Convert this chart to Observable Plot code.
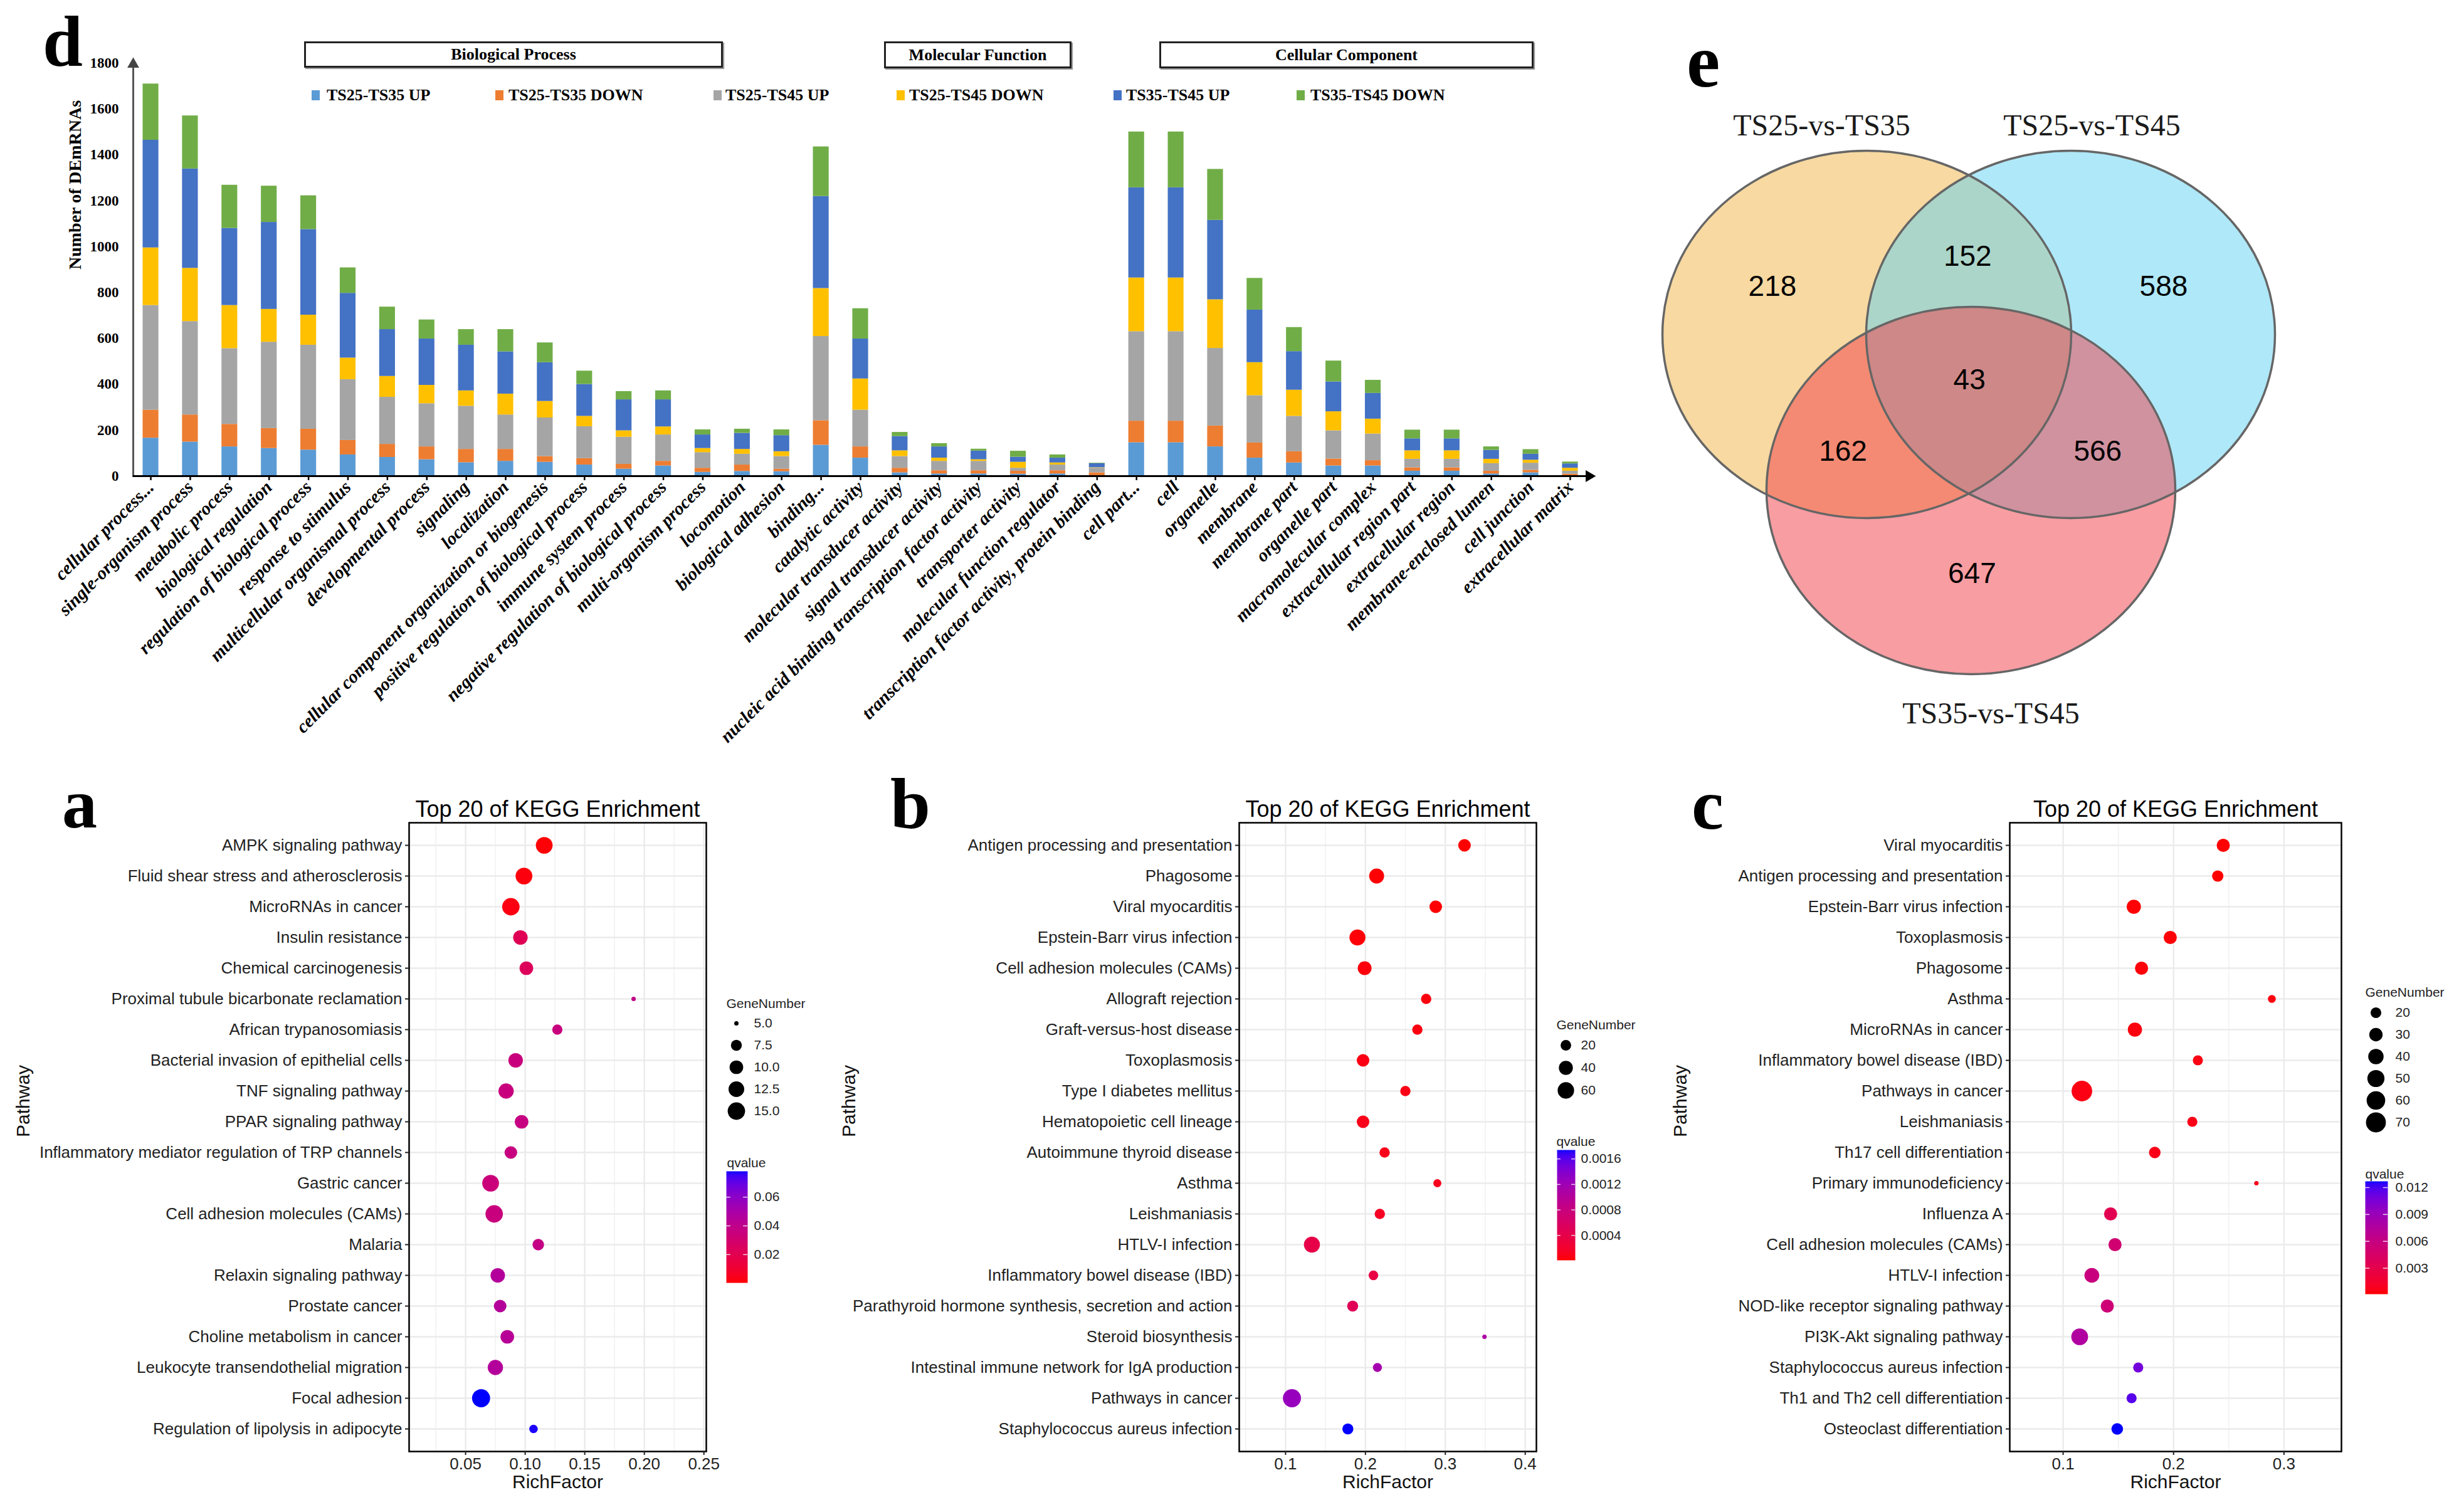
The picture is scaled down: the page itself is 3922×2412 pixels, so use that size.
<!DOCTYPE html>
<html>
<head>
<meta charset="utf-8">
<script src="https://cdn.jsdelivr.net/npm/d3@7"></script>
<script src="https://cdn.jsdelivr.net/npm/@observablehq/plot@0.6"></script>
<style>
  html, body { margin: 0; padding: 0; background: #fff; }
  #root { position: relative; width: 3922px; height: 2412px; overflow: hidden; background: #fff; }
  #root > * { position: absolute; }
  .letter { font-family: "Liberation Serif", serif; font-weight: bold; line-height: 1; color: #000; }
  .gobox { border: 3px solid #222; box-shadow: 2px 2px 1px #999; display: flex; align-items: center; justify-content: center;
           font-family: "Liberation Serif", serif; font-weight: bold; font-size: 26px; color: #000; box-sizing: border-box; background: #fff; }
  .golegtext { font-family: "Liberation Serif", serif; font-weight: bold; font-size: 26px; line-height: 1; color: #000; white-space: nowrap; }
  .vennlayer circle { vector-effect: non-scaling-stroke; }
</style>
</head>
<body>
<div id="root"></div>
<script>
// ---------------- DATA: panel d (GO classification) ----------------
const goCategories = [
  "cellular process...", "single-organism process", "metabolic process", "biological regulation",
  "regulation of biological process", "response to stimulus", "multicellular organismal process",
  "developmental process", "signaling", "localization", "cellular component organization or biogenesis",
  "positive regulation of biological process", "immune system process", "negative regulation of biological process",
  "multi-organism process", "locomotion", "biological adhesion",
  "binding...", "catalytic activity", "molecular transducer activity", "signal transducer activity",
  "nucleic acid binding transcription factor activity", "transporter activity", "molecular function regulator",
  "transcription factor activity, protein binding",
  "cell part...", "cell", "organelle", "membrane", "membrane part", "organelle part", "macromolecular complex",
  "extracellular region part", "extracellular region", "membrane-enclosed lumen", "cell junction", "extracellular matrix"
];
const goGroups = ["Biological Process", "Molecular Function", "Cellular Component"];
const goSeriesNames = ["TS25-TS35 UP", "TS25-TS35 DOWN", "TS25-TS45 UP", "TS25-TS45 DOWN", "TS35-TS45 UP", "TS35-TS45 DOWN"];
const ts25_35_up   = [166,149,128,121,114,93,82,72,59,65,61,49,31,45,17,21,20, 135,79,15,10,10,9,10,2, 146,146,128,79,58,45,45,22,22,10,15,1];
const ts25_35_down = [122,118,98,87,91,63,57,56,58,52,25,28,21,20,18,28,11, 107,49,20,14,14,13,14,13, 94,94,91,66,49,30,23,15,15,12,11,8];
const ts25_45_up   = [456,407,330,376,366,265,205,188,188,150,168,139,118,115,68,47,55, 367,160,51,41,41,13,25,20, 390,390,338,206,154,123,116,37,37,33,31,13];
const ts25_45_down = [251,232,188,143,131,94,91,80,67,91,72,45,28,35,18,21,21, 209,136,25,14,7,26,9,2, 234,234,212,144,114,83,65,37,37,19,13,13];
const ts35_45_up   = [469,433,336,379,373,282,204,202,199,184,169,139,135,118,59,70,70, 401,174,62,49,38,22,21,18, 393,393,346,229,168,130,112,52,52,39,26,19];
const ts35_45_down = [245,231,188,158,147,111,98,83,68,97,86,58,36,39,22,18,25, 216,132,18,14,8,26,14,2, 243,243,222,138,105,91,57,38,38,15,20,8];
const goYTicks = [0,200,400,600,800,1000,1200,1400,1600,1800];

// ---------------- DATA: panel e (Venn) ----------------
const vennSetNames = ["TS25-vs-TS35", "TS25-vs-TS45", "TS35-vs-TS45"];
const vennRegionSets = [[0],[1],[2],[0,1],[0,2],[1,2],[0,1,2]];
const vennCounts = [218, 588, 647, 152, 162, 566, 43];

// ---------------- DATA: panels a, b, c (KEGG) ----------------
const keggA_pathways = ["AMPK signaling pathway","Fluid shear stress and atherosclerosis","MicroRNAs in cancer","Insulin resistance","Chemical carcinogenesis","Proximal tubule bicarbonate reclamation","African trypanosomiasis","Bacterial invasion of epithelial cells","TNF signaling pathway","PPAR signaling pathway","Inflammatory mediator regulation of TRP channels","Gastric cancer","Cell adhesion molecules (CAMs)","Malaria","Relaxin signaling pathway","Prostate cancer","Choline metabolism in cancer","Leukocyte transendothelial migration","Focal adhesion","Regulation of lipolysis in adipocyte"];
const keggA_rich  = [0.116,0.099,0.088,0.096,0.101,0.191,0.127,0.092,0.084,0.097,0.088,0.071,0.074,0.111,0.077,0.079,0.085,0.075,0.063,0.107];
const keggA_genes = [14,14,15,11,10,5,7,11,12,10,9,14,15,8,11,9,10,12,16,6];
const keggA_q     = [0.0011,0.0019,0.0026,0.0221,0.0236,0.0392,0.0353,0.0353,0.0353,0.0368,0.036,0.0345,0.0353,0.0376,0.0454,0.0454,0.0438,0.0454,0.078,0.0772];
const keggA_sizeBreaks = [5, 7.5, 10, 12.5, 15];
const keggA_sizeLabels = ["5.0", "7.5", "10.0", "12.5", "15.0"];
const keggA_qTicks = [0.02, 0.04, 0.06];
const keggA_xTicks = [0.05, 0.10, 0.15, 0.20, 0.25];
const keggA_xMinor = [0.025, 0.075, 0.125, 0.175, 0.225];

const keggB_pathways = ["Antigen processing and presentation","Phagosome","Viral myocarditis","Epstein-Barr virus infection","Cell adhesion molecules (CAMs)","Allograft rejection","Graft-versus-host disease","Toxoplasmosis","Type I diabetes mellitus","Hematopoietic cell lineage","Autoimmune thyroid disease","Asthma","Leishmaniasis","HTLV-I infection","Inflammatory bowel disease (IBD)","Parathyroid hormone synthesis, secretion and action","Steroid biosynthesis","Intestinal immune network for IgA production","Pathways in cancer","Staphylococcus aureus infection"];
const keggB_rich  = [0.324,0.214,0.288,0.190,0.199,0.276,0.265,0.197,0.250,0.197,0.224,0.290,0.218,0.133,0.210,0.184,0.349,0.215,0.108,0.178];
const keggB_genes = [31,47,31,56,39,19,19,31,19,31,19,11,19,56,16,22,6,14,75,22];
const keggB_q     = [0.00001,0.00002,0.00002,0.00003,0.00004,0.00005,0.00006,0.00007,0.00008,0.00009,0.0001,0.00011,0.00015,0.00039,0.00036,0.00049,0.00108,0.00115,0.00126,0.00174];
const keggB_sizeBreaks = [20, 40, 60];
const keggB_sizeLabels = ["20", "40", "60"];
const keggB_qTicks = [0.0004, 0.0008, 0.0012, 0.0016];
const keggB_xTicks = [0.1, 0.2, 0.3, 0.4];
const keggB_xMinor = [0.05, 0.15, 0.25, 0.35];

const keggC_pathways = ["Viral myocarditis","Antigen processing and presentation","Epstein-Barr virus infection","Toxoplasmosis","Phagosome","Asthma","MicroRNAs in cancer","Inflammatory bowel disease (IBD)","Pathways in cancer","Leishmaniasis","Th17 cell differentiation","Primary immunodeficiency","Influenza A","Cell adhesion molecules (CAMs)","HTLV-I infection","NOD-like receptor signaling pathway","PI3K-Akt signaling pathway","Staphylococcus aureus infection","Th1 and Th2 cell differentiation","Osteoclast differentiation"];
const keggC_rich  = [0.245,0.240,0.164,0.197,0.171,0.289,0.165,0.222,0.117,0.217,0.183,0.275,0.143,0.147,0.126,0.140,0.115,0.168,0.162,0.149];
const keggC_genes = [29,22,34,29,29,13,34,18,75,18,23,10,29,29,37,29,48,18,18,23];
const keggC_q     = [0.0001,0.0001,0.0002,0.0002,0.0003,0.0004,0.0004,0.0005,0.0005,0.0006,0.0007,0.0008,0.0033,0.0051,0.0058,0.0054,0.0077,0.0108,0.0117,0.0127];
const keggC_sizeBreaks = [20, 30, 40, 50, 60, 70];
const keggC_sizeLabels = ["20", "30", "40", "50", "60", "70"];
const keggC_qTicks = [0.003, 0.006, 0.009, 0.012];
const keggC_xTicks = [0.1, 0.2, 0.3];
const keggC_xMinor = [0.15, 0.25];

// ---------------- STYLES / LAYOUT ----------------
const goSeriesColors = ["#5B9BD5", "#ED7D31", "#A5A5A5", "#FFC000", "#4472C4", "#70AD47"];
const vennFillColors = ["#EFB343", "#5FD1F1", "#F13B45"];
const root = document.getElementById("root");
function place(el, left, top) { el.style.left = left + "px"; el.style.top = top + "px"; root.appendChild(el); return el; }
function letter(txt, left, baseline, size) {
  const d = document.createElement("div");
  d.className = "letter"; d.textContent = txt; d.style.fontSize = size + "px";
  place(d, left, baseline - 0.8375 * size);
}

// ---------------- PANEL d ----------------
const goSeries = [ts25_35_up, ts25_35_down, ts25_45_up, ts25_45_down, ts35_45_up, ts35_45_down];
const goLong = [];
goSeriesNames.forEach((s, si) => goCategories.forEach((c, ci) => goLong.push({category: c, series: s, value: goSeries[si][ci]})));

const plotD = Plot.plot({
  width: 2600, height: 1235,
  marginLeft: 212, marginRight: 68, marginTop: 100, marginBottom: 476,
  x: {type: "band", domain: goCategories, paddingInner: 0.6, paddingOuter: 0.246},
  y: {domain: [0, 1800]},
  color: {domain: goSeriesNames, range: goSeriesColors},
  style: {background: "transparent", fontFamily: "Liberation Serif, serif", color: "#000"},
  marks: [
    Plot.barY(goLong, {x: "category", y: "value", fill: "series"}),
    Plot.frame({anchor: "left", stroke: "#555", strokeWidth: 3}),
    Plot.ruleY([0], {stroke: "#000", strokeWidth: 3}),
    Plot.dot([1800], {y: d => d, frameAnchor: "left", symbol: "triangle", r: 7, fill: "#444", dy: 2}),
    Plot.dot([0], {y: d => d, frameAnchor: "right", symbol: "triangle", r: 7, fill: "#000", rotate: 90, dx: 2}),
    Plot.axisY({ticks: goYTicks, tickFormat: d => String(d), tickSize: 0, tickPadding: 23, fontSize: 23, fontWeight: "bold", label: null, fontFamily: "Liberation Serif, serif"}),
    Plot.axisX({tickRotate: -45, tickSize: 7, tickPadding: 6, fontSize: 29, fontWeight: "bold", fontStyle: "italic",
                label: null, strokeWidth: 2.5, fontFamily: "Liberation Serif, serif"}),
    Plot.text(["Number of DEmRNAs"], {frameAnchor: "left", dx: -92, rotate: -90, fontSize: 28, fontWeight: "bold", fontFamily: "Liberation Serif, serif"})
  ]
});
place(plotD, 0, 0);

// group header boxes
const goBoxLayout = [{l: 485, t: 66, w: 668, h: 42}, {l: 1410, t: 66, w: 299, h: 43}, {l: 1849, t: 66, w: 597, h: 43}];
goGroups.forEach((g, i) => {
  const b = document.createElement("div");
  b.className = "gobox"; b.textContent = g;
  b.style.width = goBoxLayout[i].w + "px"; b.style.height = goBoxLayout[i].h + "px";
  place(b, goBoxLayout[i].l, goBoxLayout[i].t);
});
// legend
const goLegendMarkerX = [497, 790, 1138, 1430, 1776, 2068];
const goLegendTextX = [521, 811, 1157, 1450, 1796, 2090];
goSeriesNames.forEach((s, i) => {
  const m = document.createElement("div");
  m.style.width = "13px"; m.style.height = "16px"; m.style.background = goSeriesColors[i];
  place(m, goLegendMarkerX[i], 144);
  const t = document.createElement("div");
  t.className = "golegtext"; t.textContent = s;
  place(t, goLegendTextX[i], 152 - 0.8375 * 26 + 9);
});
letter("d", 68, 105, 115);

// ---------------- PANEL e (Venn) ----------------
const venn = {left: 2600, top: 150, width: 1100, height: 1030, rx: 326, ry: 293,
  centers: [{x: 377, y: 383}, {x: 702, y: 383}, {x: 543, y: 632}],
  labelPos: [{x: 305, y: 50}, {x: 736, y: 50}, {x: 575, y: 988}],
  singleOut: [0.92, 0.92, 0.8], pairOut: 0.5};
const vs = venn.ry / venn.rx;
const vennHn = Math.round(venn.height / vs);
const vennIdx = [0, 1, 2];
const vennLayer = Plot.plot({
  width: venn.width, height: vennHn, margin: 0,
  x: {domain: [0, venn.width], range: [0, venn.width], axis: null},
  y: {domain: [0, vennHn], range: [0, vennHn], axis: null},
  color: {type: "identity"},
  style: {background: "transparent"},
  marks: [
    Plot.dot(vennIdx, {x: i => venn.centers[i].x, y: i => venn.centers[i].y / vs, r: venn.rx, fill: i => vennFillColors[i], fillOpacity: 0.5}),
    Plot.dot(vennIdx, {x: i => venn.centers[i].x, y: i => venn.centers[i].y / vs, r: venn.rx, fill: "none", stroke: "#666", strokeWidth: 3.5})
  ]
});
vennLayer.setAttribute("preserveAspectRatio", "none");
vennLayer.classList.add("vennlayer");
vennLayer.style.width = venn.width + "px"; vennLayer.style.height = venn.height + "px"; vennLayer.style.maxWidth = "none";
place(vennLayer, venn.left, venn.top);

const centroid = {x: d3.mean(venn.centers, c => c.x), y: d3.mean(venn.centers, c => c.y)};
function regionPos(sets) {
  if (sets.length === 1) {
    const c = venn.centers[sets[0]], f = venn.singleOut[sets[0]];
    return {x: c.x + f * (c.x - centroid.x), y: c.y + f * (c.y - centroid.y)};
  }
  if (sets.length === 2) {
    const a = venn.centers[sets[0]], b = venn.centers[sets[1]];
    const o = venn.centers[[0, 1, 2].find(k => !sets.includes(k))];
    const m = {x: (a.x + b.x) / 2, y: (a.y + b.y) / 2};
    return {x: m.x + venn.pairOut * (m.x - o.x), y: m.y + venn.pairOut * (m.y - o.y)};
  }
  return {x: centroid.x, y: centroid.y - 10};
}
const vennRegionIdx = vennCounts.map((_, i) => i);
const vennText = Plot.plot({
  width: venn.width, height: venn.height, margin: 0,
  x: {domain: [0, venn.width], range: [0, venn.width], axis: null},
  y: {domain: [0, venn.height], range: [0, venn.height], axis: null},
  style: {background: "transparent"},
  marks: [
    Plot.text(vennRegionIdx, {x: i => regionPos(vennRegionSets[i]).x, y: i => regionPos(vennRegionSets[i]).y,
      text: i => String(vennCounts[i]), fontSize: 46, fontFamily: "Liberation Sans, Arial, sans-serif", fill: "#000"}),
    Plot.text(vennIdx, {x: i => venn.labelPos[i].x, y: i => venn.labelPos[i].y, text: i => vennSetNames[i],
      fontSize: 48, fontFamily: "Liberation Serif, serif", fill: "#1a1a1a"})
  ]
});
place(vennText, venn.left, venn.top);
letter("e", 2690, 138, 120);

// ---------------- PANELS a, b, c (KEGG) ----------------
const keggTop = 1238;
function colorOpts(qDomain) {
  return {type: "linear", domain: qDomain, range: ["red", "blue"], interpolate: d3.interpolateLab};
}
function keggPanel(cfg) {
  const data = cfg.pathways.map((p, i) => ({pathway: p, rich: cfg.rich[i], gene: cfg.genes[i], q: cfg.q[i]}));
  const rOpts = {type: "sqrt", domain: [0, cfg.gMax - cfg.gMin], range: cfg.rRange};
  const fontFamily = "Liberation Sans, Arial, sans-serif";
  const p = Plot.plot({
    width: cfg.width, height: 2390 - keggTop,
    marginLeft: cfg.marginLeft, marginRight: cfg.marginRight, marginTop: 1312 - keggTop, marginBottom: 2390 - 2315,
    x: {domain: cfg.xDomain},
    y: {type: "point", domain: cfg.pathways, padding: 0.6},
    r: rOpts,
    color: colorOpts(cfg.qDomain),
    style: {background: "transparent", fontFamily, color: "#000"},
    marks: [
      Plot.ruleX(cfg.xMinor, {stroke: "#F2F2F2", strokeWidth: 1.6}),
      Plot.ruleX(cfg.xTicks, {stroke: "#EBEBEB", strokeWidth: 2.4}),
      Plot.ruleY(cfg.pathways, {stroke: "#EBEBEB", strokeWidth: 2.4}),
      Plot.dot(data, {x: "rich", y: "pathway", r: d => d.gene - cfg.gMin, fill: "q"}),
      Plot.frame({stroke: "#000", strokeWidth: 2.5}),
      Plot.axisY({tickSize: 6, tickPadding: 5, fontSize: 26, label: null, color: "#222", fontFamily, strokeWidth: 2}),
      Plot.axisX({ticks: cfg.xTicks, tickFormat: d3.format(cfg.xFormat), tickSize: 6, tickPadding: 4, fontSize: 26,
                  label: null, color: "#222", fontFamily, strokeWidth: 2}),
      Plot.text(["Top 20 of KEGG Enrichment"], {frameAnchor: "top", dy: -35, fontSize: 36, fontFamily, fill: "#000"}),
      Plot.text(["RichFactor"], {frameAnchor: "bottom", dy: 58, fontSize: 30, fontFamily, fill: "#111"}),
      Plot.text(["Pathway"], {frameAnchor: "left", dx: cfg.pathwayDx, rotate: -90, fontSize: 30, fontFamily, fill: "#111"})
    ]
  });
  place(p, cfg.left, keggTop);

  // size legend
  const L = cfg.sizeLeg;
  const sz = Plot.plot({
    width: L.width, height: L.height, margin: 0,
    y: {type: "point", domain: cfg.sizeBreaks, padding: 0, axis: null,
        range: [L.rowY0 - L.top, L.rowY0 - L.top + L.rowStep * (cfg.sizeBreaks.length - 1)]},
    r: rOpts,
    style: {background: "transparent", fontFamily},
    marks: [
      Plot.text(["GeneNumber"], {frameAnchor: "top-left", dx: L.titleX - L.left, dy: L.titleY - L.top, textAnchor: "start", fontSize: 21, fill: "#222", fontFamily}),
      Plot.dot(cfg.sizeBreaks, {y: d => d, r: d => d - cfg.gMin, frameAnchor: "left", dx: L.dotX - L.left, fill: "#000"}),
      Plot.text(cfg.sizeBreaks, {y: d => d, text: (d, i) => cfg.sizeLabels[i], frameAnchor: "left", dx: L.labelX - L.left, textAnchor: "start", fontSize: 21, fill: "#222", fontFamily})
    ]
  });
  place(sz, L.left, L.top);

  // color legend
  const C = cfg.colLeg;
  const q0 = cfg.qDomain[0], q1 = cfg.qDomain[1];
  const rasterMark = (typeof Plot.raster === "function")
    ? Plot.raster({x1: 0, x2: 1, y1: q0, y2: q1, fill: (x, y) => y})
    : Plot.ruleY(d3.ticks(q0, q1, 200), {y: d => d, x1: 0, x2: 1, stroke: d => d, strokeWidth: 2});
  const cl = Plot.plot({
    width: C.width, height: C.height, margin: 0,
    x: {domain: [0, 1], range: [C.barX0 - C.left, C.barX1 - C.left], axis: null},
    y: {domain: cfg.qDomain, range: [C.barY1 - C.top, C.barY0 - C.top], axis: null},
    color: colorOpts(cfg.qDomain),
    style: {background: "transparent", fontFamily},
    marks: [
      rasterMark,
      Plot.ruleY(cfg.qTicks, {x1: 0, x2: 0.2, stroke: "#fff", strokeWidth: 1.5, strokeOpacity: 0.8}),
      Plot.ruleY(cfg.qTicks, {x1: 0.8, x2: 1, stroke: "#fff", strokeWidth: 1.5, strokeOpacity: 0.8}),
      Plot.text(cfg.qTicks, {y: d => d, text: d => String(d), frameAnchor: "left", dx: C.labelX - C.left, textAnchor: "start", fontSize: 21, fill: "#222", fontFamily}),
      Plot.text(["qvalue"], {frameAnchor: "top-left", dx: C.titleX - C.left, dy: C.titleY - C.top, textAnchor: "start", fontSize: 21, fill: "#222", fontFamily})
    ]
  });
  place(cl, C.left, C.top);
}

keggPanel({
  pathways: keggA_pathways, rich: keggA_rich, genes: keggA_genes, q: keggA_q,
  xDomain: [0.0026, 0.252], xTicks: keggA_xTicks, xMinor: keggA_xMinor, xFormat: ".2f",
  qDomain: [0.0003, 0.078], qTicks: keggA_qTicks, gMin: 5, gMax: 16, rRange: [3.5, 14.4],
  sizeBreaks: keggA_sizeBreaks, sizeLabels: keggA_sizeLabels,
  left: 0, width: 1150, marginLeft: 652, marginRight: 24, pathwayDx: -615,
  sizeLeg: {left: 1150, top: 1570, width: 170, height: 230, titleX: 1158, titleY: 1593, dotX: 1174, labelX: 1202, rowY0: 1630, rowStep: 35.8},
  colLeg: {left: 1150, top: 1825, width: 170, height: 240, titleX: 1159, titleY: 1847, barX0: 1158, barX1: 1192, barY0: 1868, barY1: 2046, labelX: 1202}
});
keggPanel({
  pathways: keggB_pathways, rich: keggB_rich, genes: keggB_genes, q: keggB_q,
  xDomain: [0.042, 0.414], xTicks: keggB_xTicks, xMinor: keggB_xMinor, xFormat: ".1f",
  qDomain: [0.00001, 0.00174], qTicks: keggB_qTicks, gMin: 6, gMax: 75, rRange: [3.5, 14.4],
  sizeBreaks: keggB_sizeBreaks, sizeLabels: keggB_sizeLabels,
  left: 1322, width: 1148, marginLeft: 654, marginRight: 20, pathwayDx: -622,
  sizeLeg: {left: 2472, top: 1605, width: 186, height: 160, titleX: 2482, titleY: 1627, dotX: 2497, labelX: 2521, rowY0: 1666, rowStep: 36.5},
  colLeg: {left: 2472, top: 1792, width: 186, height: 240, titleX: 2482, titleY: 1813, barX0: 2483, barX1: 2512, barY0: 1834, barY1: 2010, labelX: 2521}
});
keggPanel({
  pathways: keggC_pathways, rich: keggC_rich, genes: keggC_genes, q: keggC_q,
  xDomain: [0.0517, 0.352], xTicks: keggC_xTicks, xMinor: keggC_xMinor, xFormat: ".1f",
  qDomain: [0.0001, 0.0127], qTicks: keggC_qTicks, gMin: 10, gMax: 75, rRange: [3.5, 16.4],
  sizeBreaks: keggC_sizeBreaks, sizeLabels: keggC_sizeLabels,
  left: 2660, width: 1100, marginLeft: 545, marginRight: 26, pathwayDx: -525,
  sizeLeg: {left: 3762, top: 1553, width: 160, height: 270, titleX: 3772, titleY: 1575, dotX: 3789, labelX: 3820, rowY0: 1613, rowStep: 35.8},
  colLeg: {left: 3762, top: 1843, width: 160, height: 240, titleX: 3772, titleY: 1865, barX0: 3772, barX1: 3808, barY0: 1884, barY1: 2064, labelX: 3820}
});

letter("a", 99, 1320, 112);
letter("b", 1420, 1321, 115);
letter("c", 2698, 1322, 115);
</script>
</body>
</html>
